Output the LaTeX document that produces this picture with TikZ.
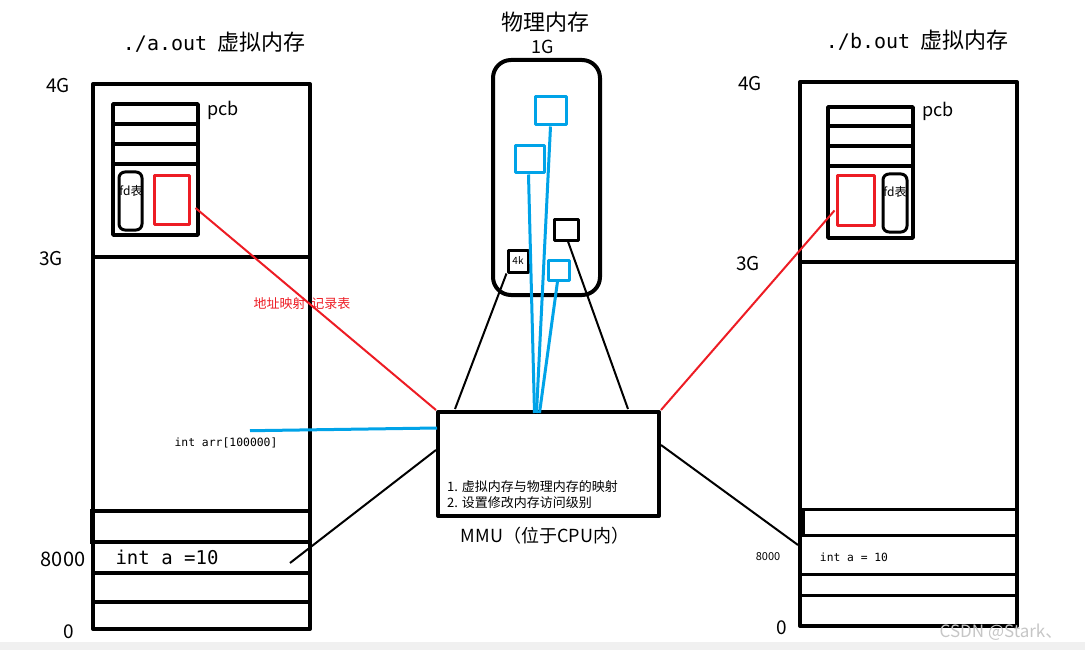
\documentclass[tikz,border=0pt]{standalone}
\usepackage{fontspec}
\setmainfont{Noto Sans CJK SC}
\newfontfamily\codefont{DejaVu Sans Mono}
\usetikzlibrary{calc}
\definecolor{PageBlue}{rgb}{0.0, 0.64, 0.91}
\definecolor{PaintRed}{rgb}{0.93, 0.11, 0.14}
\newcommand{\fsz}[1]{\fontsize{#1}{#1}\selectfont}

\begin{document}
\begin{tikzpicture}[x=1pt, y=-1pt, line join=round,
    membox/.style={draw, line width=4pt, inner sep=0pt},
    pcbbox/.style={draw, line width=3.5pt, inner sep=0pt},
    fdbox/.style={draw, line width=3pt, rounded corners=6pt, inner sep=0pt},
    mapbox/.style={draw=PaintRed, line width=3pt, inner sep=0pt},
    pagebox/.style={draw=PageBlue, line width=3pt, inner sep=0pt},
    blkpage/.style={draw, line width=3pt, inner sep=0pt},
    lbl/.style={inner sep=0pt},
    link/.style={line width=2pt},
    bluelink/.style={draw=PageBlue, line width=3pt},
    redlink/.style={draw=PaintRed, line width=2pt}]
\useasboundingbox (0,0) rectangle (1085,650);
\fill[gray!12] (0,642) rectangle (1085,650);

% ./a.out virtual memory
\node[lbl] (titlea) at (214,42) {\fsz{22}{\codefont\fsz{20}./a.out}\ \ 虚拟内存};
\node[membox, minimum width=217pt, minimum height=545pt] (mema) at (201.5,356.5) {};
\draw[line width=4pt] (93,257) -- (312,257);
\foreach \yy in {511,542,573,602}
  \draw[line width=4pt] (93,\yy) -- (310,\yy);
\draw[line width=4pt] (92,509) -- (92,544);
\node[lbl] (g4a) at (58,86) {\fsz{19}4G};
\node[lbl] (g3a) at (51,259) {\fsz{19}3G};
\node[lbl] (adra) at (63,559) {\fsz{20}8000};
\node[lbl] (zeroa) at (69,632) {\fsz{19}0};
\node[lbl] (vara) at (167,557) {\fsz{19}\codefont int a =10};
\node[lbl] (arr) at (226,443) {\fsz{11.4}\codefont int arr[100000]};

% pcb of a
\node[pcbbox, minimum width=85pt, minimum height=131pt] (pcba) at (155.5,169.5) {};
\foreach \yy in {124,144,164}
  \draw[line width=3.5pt] (113,\yy) -- (198,\yy);
\node[lbl] (pcbla) at (223,110) {\fsz{18}pcb};
\node[fdbox, minimum width=23pt, minimum height=58pt] (fda) at (130.5,201) {};
\node[lbl] at (131,191) {\fsz{12}fd表};
\node[mapbox, minimum width=35pt, minimum height=48pt] (reda) at (171.5,200) {};

% ./b.out virtual memory
\node[lbl] (titleb) at (917,40) {\fsz{22}{\codefont\fsz{20}./b.out}\ \ 虚拟内存};
\node[membox, minimum width=217pt, minimum height=544pt] (memb) at (908.5,354) {};
\draw[line width=4pt] (800,262) -- (1017,262);
\foreach \yy in {509,535,574,595}
  \draw[line width=3pt] (802,\yy) -- (1017,\yy);
\draw[line width=4pt] (803,509) -- (803,535);
\node[lbl] (g4b) at (750,84) {\fsz{19}4G};
\node[lbl] (g3b) at (748,264) {\fsz{19}3G};
\node[lbl] (adrb) at (768,557) {\fsz{11}8000};
\node[lbl] (zerob) at (782,628) {\fsz{19}0};
\node[lbl] (varb) at (854,557) {\fsz{11.3}\codefont int a = 10};

% pcb of b
\node[pcbbox, minimum width=85pt, minimum height=131pt] (pcbb) at (870.5,172.5) {};
\foreach \yy in {126,146,166}
  \draw[line width=3.5pt] (828,\yy) -- (913,\yy);
\node[lbl] (pcblb) at (938,111) {\fsz{18}pcb};
\node[mapbox, minimum width=37pt, minimum height=49pt] (redb) at (855.5,200.5) {};
\node[fdbox, minimum width=24pt, minimum height=58pt] (fdb) at (895,203) {};
\node[lbl] at (895,192) {\fsz{12}fd表};

% physical memory
\node[lbl] (phys) at (545,22) {\fsz{22}物理内存};
\node[lbl] (physsz) at (543,47) {\fsz{18}1G};
\node[draw, line width=4pt, rounded corners=18pt, minimum width=107pt, minimum height=235pt] (ram) at (546.5,177.5) {};
\node[pagebox, minimum width=31pt, minimum height=28pt] (pga) at (550.5,111) {};
\node[pagebox, minimum width=29pt, minimum height=27pt] (pgb) at (529.5,159.5) {};
\node[pagebox, minimum width=21pt, minimum height=20pt] (pgc) at (558.5,270) {};
\node[blkpage, minimum width=20pt, minimum height=22pt] (pgk) at (518,261) {\fsz{10}4k};
\node[blkpage, minimum width=24pt, minimum height=21pt] (pgd) at (566,229.5) {};

% MMU
\node[draw, line width=4pt, minimum width=221pt, minimum height=104pt] (mmu) at (548.5,464) {};
\node[lbl, anchor=west] (mmuta) at (447,487) {\fsz{13}1. 虚拟内存与物理内存的映射};
\node[lbl, anchor=west] (mmutb) at (447,503) {\fsz{13}2. 设置修改内存访问级别};
\node[lbl] (mmul) at (545,536) {\fsz{18}MMU（位于CPU内）};
\coordinate (hub) at ($(mmu.north)+(-11,3)$);

% connectors
\draw[bluelink] (pga.south) -- ($(hub)+(-1,0)$);
\draw[bluelink] ($(pgb.south)+(-1,0)$) -- ($(hub)+(-3,0)$);
\draw[bluelink] ($(pgc.south)+(-1,0)$) -- ($(hub)+(2,0)$);
\draw[bluelink] ($(arr.north)+(24,-7)$) -- ($(mmu.north west)+(1,18)$);
\draw[link] (pgk.south west) -- ($(mmu.north west)+(19,-1)$);
\draw[link] ($(pgd.south)+(2,0)$) -- ($(mmu.north east)+(-33,-1)$);
\draw[redlink] ($(reda.east)+(5,8)$) -- (mmu.north west);
\node[lbl, text=PaintRed] (maplbl) at (302,304) {\fsz{13}地址映射\ \ 记录表};
\draw[redlink] (mmu.north east) -- ($(redb.west)+(-1,10)$);
\coordinate (slota) at (290,563);
\draw[link] ($(mmu.west)+(0,-14)$) -- (slota);
\draw[link] ($(mmu.east)+(0,-19)$) -- ($(memb.west)+(0,191)$);

\node[lbl, text=gray!45] (mark) at (1001,632) {\fsz{17}CSDN @Stark、};
\end{tikzpicture}
\end{document}
